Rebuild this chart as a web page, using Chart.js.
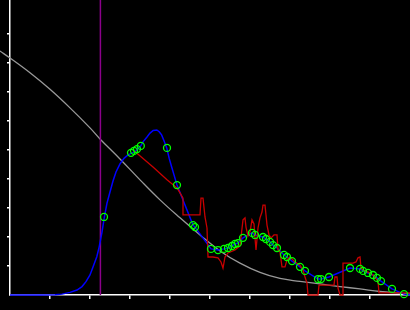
<!DOCTYPE html>
<html>
<head>
<meta charset="utf-8">
<script src="https://cdn.jsdelivr.net/npm/chart.js@4.4.1/dist/chart.umd.min.js"></script>
<style>
  html, body { margin: 0; padding: 0; background: #000; }
  #fitChart { display: block; }
</style>
</head>
<body>
<canvas id="fitChart" width="410" height="310"></canvas>
<script>
// tick positions (no labels shown)
const xTicks = [1, 2, 3, 4, 5, 6, 7, 8, 9];
const yTicks = [1, 2, 3, 4, 5, 6, 7, 8, 9];

// grey reference curve
const greyX = [-0.25, 0, 0.5, 1.0, 1.5, 2.0, 2.25, 2.75, 3.25, 3.75, 4.25, 4.75, 5.25, 5.75, 6.25, 6.75, 7.25, 7.75, 8.25, 8.75, 9.25, 10];
const greyY = [8.41, 8.17, 7.66, 7.09, 6.45, 5.76, 5.38, 4.69, 3.97, 3.28, 2.66, 2.07, 1.52, 1.10, 0.78, 0.57, 0.47, 0.38, 0.29, 0.21, 0.12, 0.03];

// vertical marker
const markerX = 2.26;

// blue fitted curve
const blueX = [0, 0.75, 1.125, 1.3, 1.5, 1.675, 1.8, 1.9, 2.0, 2.08, 2.17, 2.23, 2.3, 2.36, 2.425, 2.5, 2.575, 2.65, 2.75, 2.85, 2.95,
  3.04, 3.125, 3.18, 3.27, 3.33, 3.42, 3.5, 3.58, 3.67, 3.73, 3.79, 3.85, 3.92, 3.98, 4.04, 4.1, 4.175,
  4.575, 4.625, 5.025, 5.2, 5.35, 5.45, 5.55, 5.625, 5.7, 5.825, 6.05, 6.125, 6.325, 6.4, 6.5, 6.575, 6.675,
  6.85, 6.925, 7.05, 7.25, 7.375, 7.7, 7.775, 7.975, 8.5, 8.75, 8.825, 8.95, 9.075, 9.175, 9.275, 9.55, 9.85, 10];
const blueY = [0, 0, 0.01, 0.03, 0.09, 0.17, 0.29, 0.46, 0.69, 0.98, 1.32, 1.66, 2.17, 2.69, 3.17, 3.55, 3.93, 4.24, 4.52, 4.71, 4.83,
  4.89, 4.94, 5.02, 5.14, 5.29, 5.44, 5.58, 5.67, 5.69, 5.63, 5.52, 5.32, 5.06, 4.71, 4.42, 4.14, 3.79,
  2.41, 2.34, 1.59, 1.55, 1.59, 1.62, 1.69, 1.76, 1.79, 1.97, 2.14, 2.07, 2.0, 1.93, 1.83, 1.72, 1.62,
  1.38, 1.31, 1.17, 0.97, 0.83, 0.55, 0.55, 0.62, 0.93, 0.90, 0.83, 0.76, 0.69, 0.59, 0.48, 0.21, 0.03, 0];

// red measured trace
const redX = [3.1, 3.575, 3.925, 4.175, 4.25, 4.325, 4.325, 4.75, 4.775, 4.825, 4.875, 4.925, 4.95, 5.075, 5.2, 5.275, 5.325,
  5.375, 5.45, 5.625, 5.75, 5.825, 5.875, 5.9, 5.95, 6.0, 6.05, 6.1, 6.125, 6.15, 6.2, 6.25, 6.3, 6.325, 6.375,
  6.4, 6.425, 6.475, 6.525, 6.6, 6.675, 6.7, 6.75, 6.8, 6.875, 6.925, 7.0, 7.125, 7.25, 7.325, 7.375, 7.425,
  7.45, 7.7, 7.725, 8.1, 8.125, 8.175, 8.2, 8.25, 8.3, 8.325, 8.575, 8.65, 8.7, 8.75, 8.775, 8.825, 8.95,
  9.075, 9.2, 9.225, 10];
const redY = [4.97, 4.41, 3.97, 3.69, 3.52, 3.34, 2.76, 2.76, 3.34, 3.34, 2.69, 2.31, 1.31, 1.31, 1.28, 1.14, 0.93,
  1.31, 1.45, 1.55, 1.69, 2.59, 2.66, 2.34, 2.03, 2.17, 2.59, 2.45, 1.97, 1.55, 2.31, 2.66, 2.86, 3.1, 3.1,
  2.76, 2.41, 2.07, 1.97, 2.07, 2.07, 1.55, 1.48, 0.97, 0.97, 1.21, 1.31, 1.14, 1.03, 0.86, 0.62, 0.41,
  0, 0, 0.34, 0.34, 0.62, 0.62, 0.24, 0, 0, 1.10, 1.10, 1.14, 1.28, 1.31, 0.93, 0.86, 0.79,
  0.69, 0.48, 0.07, 0.07];

// green sample points
const dotX = [2.35, 3.025, 3.1, 3.175, 3.27, 3.925, 4.175, 4.575, 4.625, 5.025, 5.2, 5.35, 5.45, 5.55, 5.625, 5.7, 5.825,
  6.05, 6.125, 6.325, 6.4, 6.5, 6.575, 6.675, 6.85, 6.925, 7.05, 7.25, 7.375, 7.7, 7.775, 7.975, 8.5,
  8.75, 8.825, 8.95, 9.075, 9.175, 9.275, 9.55, 9.85];
const dotY = [2.69, 4.9, 4.97, 5.03, 5.14, 5.07, 3.79, 2.41, 2.34, 1.59, 1.55, 1.59, 1.62, 1.69, 1.76, 1.79, 1.97,
  2.14, 2.07, 2.0, 1.93, 1.83, 1.72, 1.62, 1.38, 1.31, 1.17, 0.97, 0.83, 0.55, 0.55, 0.62, 0.93,
  0.90, 0.83, 0.76, 0.69, 0.59, 0.48, 0.21, 0.03];

const yMax = 10.17;

function pts(xs, ys) {
  return xs.map((x, i) => ({ x: x, y: ys[i] }));
}

function axisOpts(min, max, ticks, tickLen) {
  return {
    type: "linear",
    min: min,
    max: max,
    afterBuildTicks: axis => { axis.ticks = ticks.map(v => ({ value: v })); },
    ticks: { display: false },
    grid: { display: true, drawOnChartArea: false, drawTicks: true, tickLength: tickLen, color: "#ffffff", lineWidth: 1.5 },
    border: { display: true, color: "#ffffff", width: 1.5 }
  };
}

document.addEventListener("DOMContentLoaded", function () {
  const ctx = document.getElementById("fitChart").getContext("2d");

  new Chart(ctx, {
    type: "line",
    data: {
      datasets: [
        {
          data: pts(dotX, dotY),
          showLine: false,
          pointRadius: 3.5,
          pointBorderWidth: 1.3,
          pointBorderColor: "#00ff00",
          pointBackgroundColor: "rgba(0,0,0,0)",
          clip: false
        },
        {
          data: pts(redX, redY),
          borderColor: "#c80000",
          borderWidth: 1.3,
          pointRadius: 0,
          tension: 0,
          clip: false
        },
        {
          data: pts(blueX, blueY),
          borderColor: "#0000ff",
          borderWidth: 1.5,
          pointRadius: 0,
          tension: 0,
          clip: false
        },
        {
          data: [{ x: markerX, y: 0 }, { x: markerX, y: yMax }],
          borderColor: "#8b008b",
          borderWidth: 1.5,
          pointRadius: 0,
          clip: false
        },
        {
          data: pts(greyX, greyY),
          borderColor: "#999999",
          borderWidth: 1.3,
          pointRadius: 0,
          tension: 0.4,
          clip: false
        }
      ]
    },
    options: {
      responsive: false,
      animation: false,
      devicePixelRatio: 1,
      layout: { autoPadding: false, padding: { left: 7, right: 0, top: 0, bottom: 11 } },
      plugins: {
        legend: { display: false },
        tooltip: { enabled: false }
      },
      scales: {
        x: axisOpts(0, 10, xTicks, 4),
        y: axisOpts(0, yMax, yTicks, 3)
      }
    }
  });
});
</script>
</body>
</html>
